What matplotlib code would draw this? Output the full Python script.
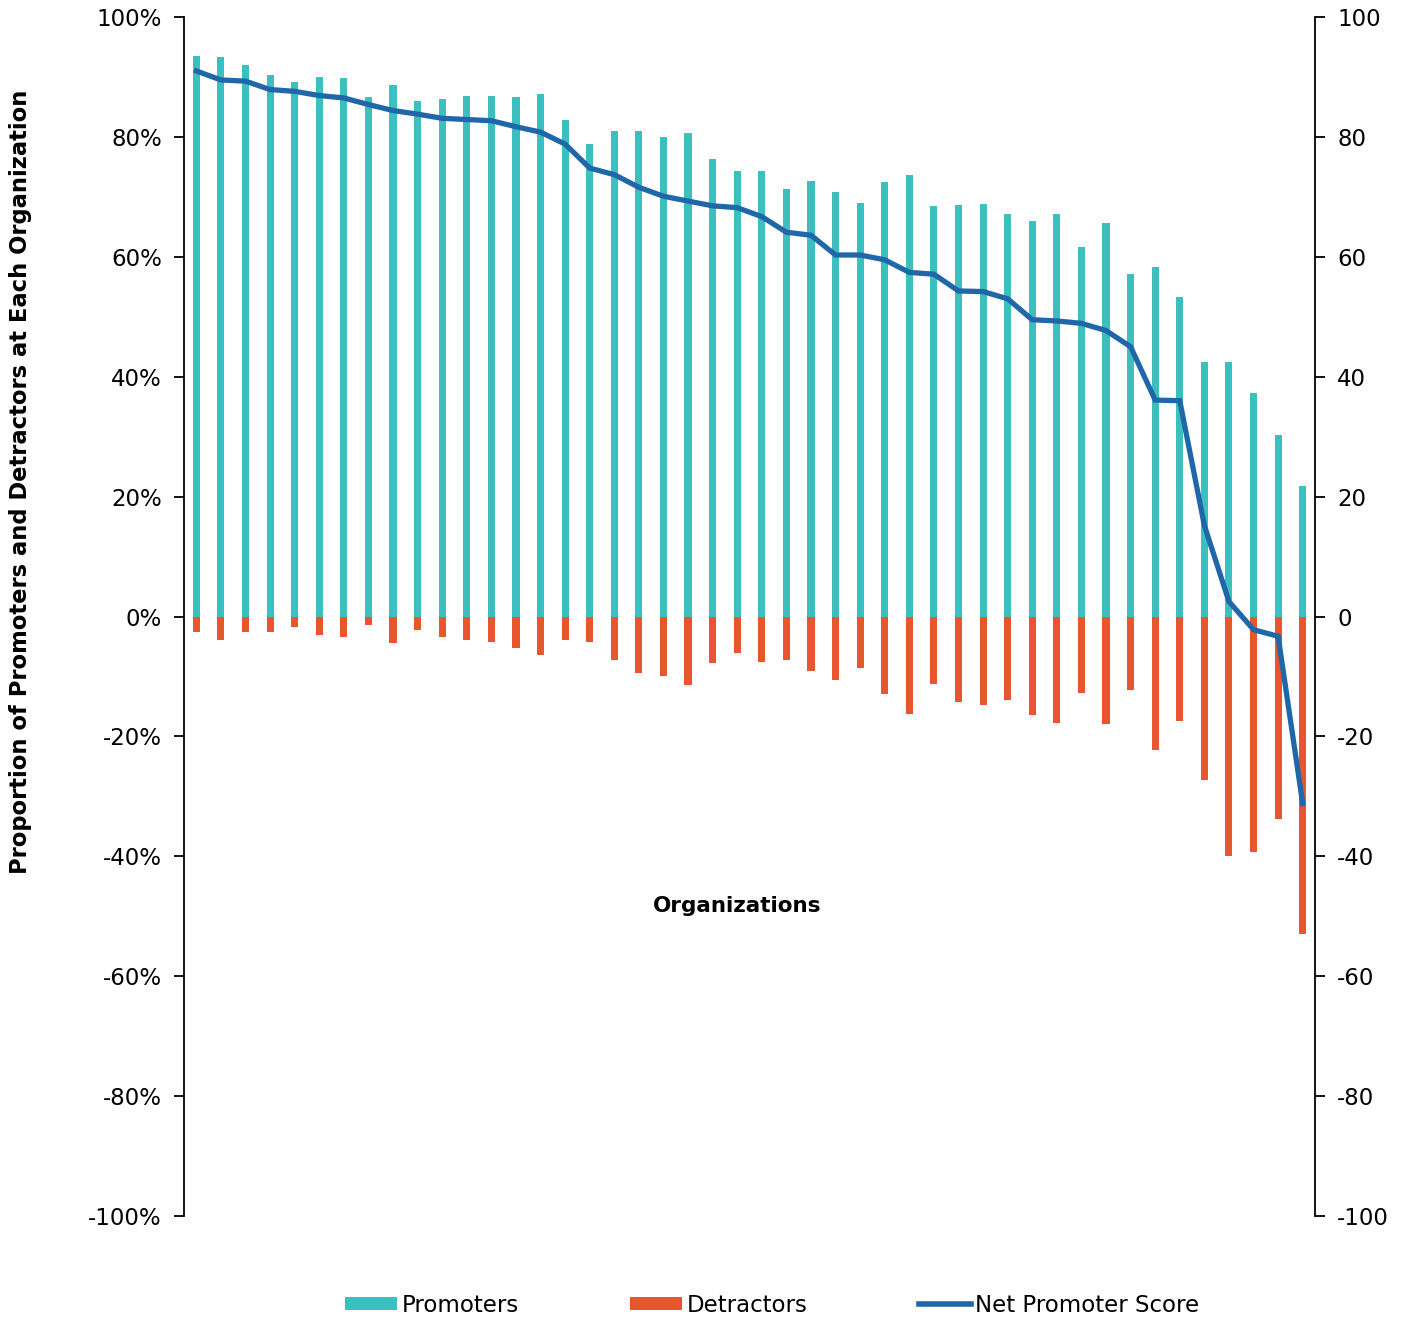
import matplotlib
matplotlib.use("Agg")
import matplotlib.pyplot as plt
import numpy as np
from matplotlib.lines import Line2D
from matplotlib.patches import Patch
from matplotlib.ticker import FuncFormatter, MultipleLocator

plt.rcParams["font.family"] = ["DejaVu Sans"]
plt.rcParams["axes.unicode_minus"] = False

TEAL = "#3bbfbf"
ORANGE = "#e8562f"
BLUE = "#1f67a8"

# share of promoters / detractors per organization (%), NPS on right axis
promoters = [
    93.5, 93.3, 92.0, 90.4, 89.2, 90.0, 89.8, 86.7, 88.6, 86.0,
    86.3, 86.8, 86.8, 86.7, 87.1, 82.9, 78.9, 81.0, 81.0, 80.0,
    80.7, 76.3, 74.3, 74.3, 71.3, 72.7, 70.8, 68.9, 72.4, 73.7,
    68.4, 68.6, 68.8, 67.1, 66.0, 67.1, 61.6, 65.6, 57.1, 58.3,
    53.3, 42.5, 42.5, 37.2, 30.3, 21.8,
]
detractors = [
    -2.6, -3.9, -2.6, -2.6, -1.8, -3.1, -3.4, -1.4, -4.4, -2.3,
    -3.4, -3.9, -4.3, -5.2, -6.4, -4.0, -4.2, -7.2, -9.4, -10.0,
    -11.4, -7.8, -6.1, -7.6, -7.2, -9.1, -10.6, -8.6, -12.9, -16.3,
    -11.3, -14.3, -14.7, -13.9, -16.5, -17.8, -12.8, -17.9, -12.2, -22.3,
    -17.4, -27.2, -40.0, -39.3, -33.7, -52.9,
]
nps = [
    91.0, 89.5, 89.3, 87.9, 87.6, 86.9, 86.5, 85.4, 84.4, 83.8,
    83.1, 82.9, 82.7, 81.7, 80.8, 78.8, 74.8, 73.7, 71.6, 70.1,
    69.3, 68.5, 68.2, 66.7, 64.1, 63.6, 60.3, 60.3, 59.5, 57.4,
    57.1, 54.3, 54.2, 53.0, 49.5, 49.3, 48.9, 47.7, 45.0, 36.1,
    36.0, 15.2, 2.5, -2.2, -3.3, -31.2,
]

x = np.arange(len(promoters))

fig = plt.figure(figsize=(14.07, 13.19), dpi=100)
ax = fig.add_axes([0.1308, 0.0781, 0.8038, 0.909])

ax.bar(x, promoters, width=0.29, color=TEAL, zorder=2)
ax.bar(x, detractors, width=0.29, color=ORANGE, zorder=2)
ax.set_xlim(-0.5, len(x) - 0.5)
ax.set_ylim(-100, 100)
ax.yaxis.set_major_locator(MultipleLocator(20))
ax.yaxis.set_major_formatter(FuncFormatter(lambda v, _: f"{v:.0f}%"))
ax.tick_params(axis="y", labelsize=16.5, length=7, width=1.3, pad=9)
ax.set_xticks([])
for side in ("top", "bottom", "right"):
    ax.spines[side].set_visible(False)
ax.spines["left"].set_linewidth(1.3)
# y label sits above the axes centre in the original
fig.text(0.0145, 0.6346, "Proportion of Promoters and Detractors at Each Organization",
         rotation=90, ha="center", va="center", fontsize=16.3, fontweight="bold")
ax.text(0.489, 0.2586, "Organizations", transform=ax.transAxes,
        ha="center", va="center", fontsize=15.5, fontweight="bold")

ax2 = ax.twinx()
ax2.plot(x, nps, color=BLUE, linewidth=3.8, solid_joinstyle="miter", zorder=3)
ax2.set_ylim(-100, 100)
ax2.yaxis.set_major_locator(MultipleLocator(20))
ax2.yaxis.set_major_formatter(FuncFormatter(lambda v, _: f"{v:.0f}"))
ax2.tick_params(axis="y", labelsize=16.5, length=7, width=1.3, pad=9)
for side in ("top", "bottom", "left"):
    ax2.spines[side].set_visible(False)
ax2.spines["right"].set_linewidth(1.3)

handles = [
    Patch(facecolor=TEAL, edgecolor="none"),
    Patch(facecolor=ORANGE, edgecolor="none"),
    Line2D([0], [0], color=BLUE, linewidth=4),
]
fig.legend(handles, ["Promoters", "Detractors", "Net Promoter Score"],
           loc="center", bbox_to_anchor=(0.549, 0.0106), ncol=3, frameon=False,
           fontsize=16.5, handlelength=2.27, handleheight=0.5, handletextpad=0.2,
           columnspacing=4.85)

fig.savefig("out.png", dpi=100)
